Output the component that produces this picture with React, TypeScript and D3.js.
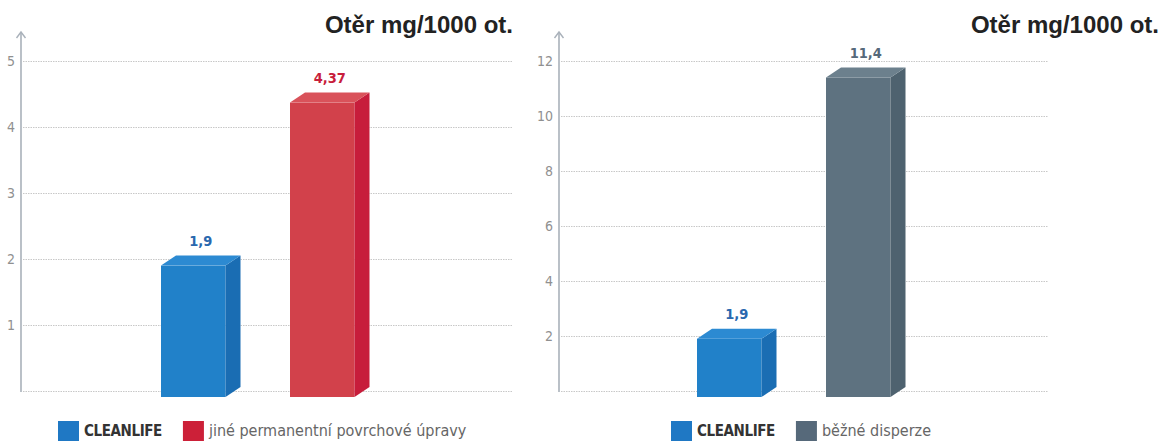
import React, { useRef, useEffect } from 'react';
import * as d3 from 'd3';

const titleText = "Otěr mg/1000 ot.";

const leftCategories = ["CLEANLIFE", "jiné permanentní povrchové úpravy"];
const leftValues = [1.9, 4.37];
const leftTicks = [1, 2, 3, 4, 5];

const rightCategories = ["CLEANLIFE", "běžné disperze"];
const rightValues = [1.9, 11.4];
const rightTicks = [2, 4, 6, 8, 10, 12];

const font = "'DejaVu Sans Condensed', 'Liberation Sans Narrow', Roboto, sans-serif";

const palette = {
  blue: { front: "#2181c9", side: "#1a6db3", top: "#2c8ad2", label: "#2a68ae", legend: "#1f78c4" },
  red: { front: "#d2414b", side: "#c71d3b", top: "#d9525a", label: "#c81e3c", legend: "#cc2038" },
  gray: { front: "#5e7280", side: "#4e626f", top: "#6c808d", label: "#56697a", legend: "#56697a" },
};

const charts = [
  {
    categories: leftCategories, values: leftValues, ticks: leftTicks, max: 5,
    axisX: 21, gridEnd: 512, top: 61, zero: 391,
    band: [128.75, 386.75],
    colors: [palette.blue, palette.red],
    titleRight: 513, legendX: 58,
  },
  {
    categories: rightCategories, values: rightValues, ticks: rightTicks, max: 12,
    axisX: 559, gridEnd: 1048, top: 61, zero: 391,
    band: [664.75, 922.75],
    colors: [palette.blue, palette.gray],
    titleRight: 1159, legendX: 671,
  },
];

const App = () => {
  const svgRef = useRef(null);

  useEffect(() => {
    const svg = d3.select(svgRef.current);
    svg.selectAll("*").remove();

    charts.forEach((c) => {
      const g = svg.append("g");
      const y = d3.scaleLinear().domain([0, c.max]).range([c.zero, c.top]);
      const x = d3.scaleBand()
        .domain(c.categories)
        .range(c.band)
        .paddingInner(0.5)
        .paddingOuter(0.25);

      // dotted grid lines, baseline included
      g.selectAll(".grid")
        .data([0, ...c.ticks])
        .enter()
        .append("line")
        .attr("x1", c.axisX + 2)
        .attr("x2", c.gridEnd)
        .attr("y1", (d) => y(d) + 0.5)
        .attr("y2", (d) => y(d) + 0.5)
        .attr("stroke", "#c8c8c8")
        .attr("stroke-width", 1)
        .attr("stroke-dasharray", "1.5,1");

      // y axis + arrow
      g.append("line")
        .attr("x1", c.axisX).attr("x2", c.axisX)
        .attr("y1", c.zero + 1).attr("y2", 32)
        .attr("stroke", "#a9b1ba").attr("stroke-width", 1.6);
      g.append("path")
        .attr("d", `M${c.axisX - 4.5},38 L${c.axisX},32 L${c.axisX + 4.5},38`)
        .attr("fill", "none")
        .attr("stroke", "#a9b1ba").attr("stroke-width", 1.4);

      g.selectAll(".tick")
        .data(c.ticks)
        .enter()
        .append("text")
        .attr("x", c.axisX - 6)
        .attr("y", (d) => y(d) + 5)
        .attr("text-anchor", "end")
        .attr("font-family", font)
        .attr("font-size", 14)
        .attr("fill", "#909090")
        .text((d) => d);

      // 3D bars
      const bw = x.bandwidth();
      const dx = 15;
      const dy = 10;
      const bottom = y(0) + 6;
      c.values.forEach((v, i) => {
        const x0 = x(c.categories[i]);
        const yv = y(v);
        const col = c.colors[i];
        g.append("rect")
          .attr("x", x0).attr("y", yv)
          .attr("width", bw).attr("height", bottom - yv)
          .attr("fill", col.front);
        g.append("path")
          .attr("d", `M${x0 + bw},${yv} L${x0 + bw + dx},${yv - dy} L${x0 + bw + dx},${bottom - dy} L${x0 + bw},${bottom} Z`)
          .attr("fill", col.side);
        g.append("path")
          .attr("d", `M${x0},${yv} L${x0 + dx},${yv - dy} L${x0 + bw + dx},${yv - dy} L${x0 + bw},${yv} Z`)
          .attr("fill", col.top);
        g.append("text")
          .attr("x", x0 + (bw + dx) / 2)
          .attr("y", yv - dy - 10)
          .attr("text-anchor", "middle")
          .attr("font-family", font)
          .attr("font-weight", "bold")
          .attr("font-size", 14.5)
          .attr("fill", col.label)
          .text(String(v).replace(".", ","));
      });

      // title
      g.append("text")
        .attr("x", c.titleRight)
        .attr("y", 33)
        .attr("text-anchor", "end")
        .attr("font-family", "'Liberation Sans', Arial, sans-serif")
        .attr("font-weight", "bold")
        .attr("font-size", 24)
        .attr("fill", "#222")
        .text(titleText);

      // legend
      let lx = c.legendX;
      c.categories.forEach((cat, i) => {
        g.append("rect")
          .attr("x", lx).attr("y", 421)
          .attr("width", 21).attr("height", 20)
          .attr("fill", c.colors[i].legend);
        const t = g.append("text")
          .attr("x", lx + 26)
          .attr("y", 436)
          .attr("font-family", font)
          .attr("font-size", i === 0 ? 15 : 16)
          .attr("letter-spacing", i === 0 ? -0.4 : 0)
          .attr("font-weight", i === 0 ? "bold" : "normal")
          .attr("fill", i === 0 ? "#333" : "#666")
          .text(cat);
        const w = t.node().getComputedTextLength();
        lx += 26 + w + 21;
      });
    });
  }, []);

  return (
    <svg
      ref={svgRef}
      width={1160}
      height={441}
      style={{ position: "absolute", left: 0, top: 0, background: "#fff" }}
    ></svg>
  );
};

export default App;
